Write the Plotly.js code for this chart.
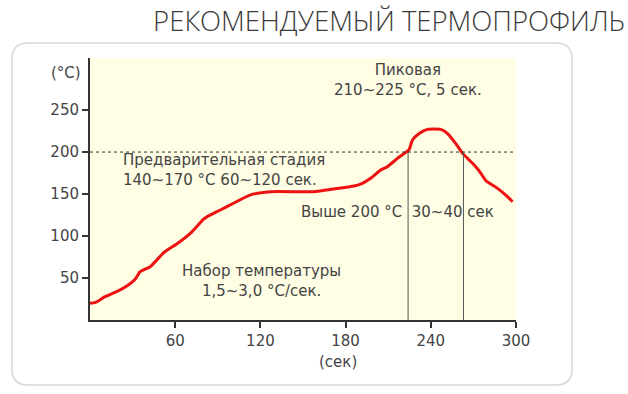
<!DOCTYPE html>
<html>
<head>
<meta charset="utf-8">
<script src="https://cdn.plot.ly/plotly-3.0.1.min.js"></script>
<style>html,body{margin:0;padding:0;background:#fff;}#chart{width:628px;height:394px;}</style>
</head>
<body>
<div id="chart"></div>
<script>
// Profile data (time in s, temperature in °C)
const timeSec = [0, 3.5, 10.6, 18.8, 27, 31.8, 35.3, 42.4, 47, 51.8, 62.3, 71.8, 80, 82.4, 91.8, 101, 113, 127, 157.6, 169, 186, 191.8, 197.6, 204.7, 209.4, 216.5, 224.7, 227, 231.8, 237.6, 247, 251.8, 257.6, 262.4, 270.6, 275.3, 278.8, 287, 294, 297.6];
const tempC   = [20, 20.6, 27.8, 33.7, 41.7, 48.4, 57.5, 63.5, 71.4, 80, 92, 105, 120, 123, 131, 139, 149, 152.8, 152.8, 155.5, 159.5, 162.7, 168.7, 178.6, 182.5, 192.5, 203, 214, 222, 227, 227, 222, 210, 198.4, 184.5, 174.6, 165.8, 156.7, 146.8, 140.8];
const xTicks = [60, 120, 180, 240, 300];
const yTicks = [50, 100, 150, 200, 250];
const thresholdTemp = 200;
const above200 = [224, 263];

const W = 628, H = 394;
const M = {l: 90, r: 112, t: 58, b: 74};
const pw = W - M.l - M.r, ph = H - M.t - M.b;
const px = x => (x - M.l) / pw;
const py = y => (H - M.b - y) / ph;

function roundRect(x0, y0, x1, y1, r) {
  const P = (x, y) => px(x).toFixed(4) + ',' + py(y).toFixed(4);
  return 'M' + P(x0 + r, y0) + ' L' + P(x1 - r, y0) + ' Q' + P(x1, y0) + ' ' + P(x1, y0 + r) +
    ' L' + P(x1, y1 - r) + ' Q' + P(x1, y1) + ' ' + P(x1 - r, y1) +
    ' L' + P(x0 + r, y1) + ' Q' + P(x0, y1) + ' ' + P(x0, y1 - r) +
    ' L' + P(x0, y0 + r) + ' Q' + P(x0, y0) + ' ' + P(x0 + r, y0) + ' Z';
}

const txt = '#444444';
const F = 'DejaVu Sans, Verdana, sans-serif';

const trace = {
  x: timeSec, y: tempC, type: 'scatter', mode: 'lines',
  line: {color: '#ee1111', width: 3, shape: 'spline', smoothing: 0.5},
  hoverinfo: 'skip', showlegend: false
};

const shapes = [
  {type: 'path', xref: 'paper', yref: 'paper', layer: 'below',
   path: roundRect(12, 43, 572, 385, 16), fillcolor: '#ffffff', line: {color: '#d8d8d8', width: 1.5}},
  {type: 'rect', xref: 'paper', yref: 'paper', layer: 'below', x0: 0, x1: 1, y0: 0, y1: 1,
   fillcolor: '#fffde3', line: {width: 0}},
  {type: 'line', xref: 'paper', yref: 'y', x0: 0, x1: 1, y0: thresholdTemp, y1: thresholdTemp,
   line: {color: '#333333', width: 1, dash: 'dot'}},
  ...above200.map(t => ({type: 'line', xref: 'x', yref: 'y', x0: t, x1: t, y0: 0, y1: thresholdTemp,
   line: {color: '#555555', width: 1}}))
];

const annotations = [
  {text: 'Пиковая<br>210~225 °C, 5 сек.', x: 224, y: 286, xref: 'x', yref: 'y', showarrow: false, align: 'center', xanchor: 'center', yanchor: 'middle'},
  {text: 'Предварительная стадия<br>140~170 °C 60~120 сек.', x: 21.5, y: 178.6, xref: 'x', yref: 'y', showarrow: false, align: 'left', xanchor: 'left', yanchor: 'middle'},
  {text: 'Выше 200 °C\u00a0\u00a030~40 сек', x: 147, y: 128.6, xref: 'x', yref: 'y', showarrow: false, align: 'left', xanchor: 'left', yanchor: 'middle'},
  {text: 'Набор температуры<br>1,5~3,0 °C/сек.', x: 120.7, y: 46.4, xref: 'x', yref: 'y', showarrow: false, align: 'center', xanchor: 'center', yanchor: 'middle'},
  {text: '(°C)', x: px(66), y: py(73), xref: 'paper', yref: 'paper', showarrow: false, xanchor: 'center', yanchor: 'middle'},
  {text: '(сек)', x: px(338), y: py(362), xref: 'paper', yref: 'paper', showarrow: false, xanchor: 'center', yanchor: 'middle'}
];

const layout = {
  width: W, height: H,
  margin: M,
  paper_bgcolor: '#ffffff', plot_bgcolor: 'rgba(0,0,0,0)',
  font: {family: F, size: 15, color: txt},
  title: {text: 'РЕКОМЕНДУЕМЫЙ ТЕРМОПРОФИЛЬ', xref: 'container', yref: 'container',
          x: 625 / W, xanchor: 'right', y: 1 - 21 / H, yanchor: 'middle',
          font: {family: 'Open Sans, Lato, sans-serif', size: 27.5, weight: 300, color: '#3a3a3a'}},
  xaxis: {range: [0, 300], tickvals: xTicks, ticktext: xTicks.map(String), ticks: 'outside', ticklen: 6, tickwidth: 2, tickcolor: '#333',
          showline: true, linecolor: '#333', linewidth: 2, showgrid: false, zeroline: false, fixedrange: true},
  yaxis: {range: [0, 312], tickvals: yTicks, ticktext: yTicks.map(String), ticks: 'outside', ticklen: 6, tickwidth: 2, tickcolor: '#333',
          showline: true, linecolor: '#333', linewidth: 2, showgrid: false, zeroline: false, fixedrange: true},
  shapes: shapes,
  annotations: annotations
};

Plotly.newPlot('chart', [trace], layout, {displayModeBar: false, staticPlot: true});
</script>
</body>
</html>
